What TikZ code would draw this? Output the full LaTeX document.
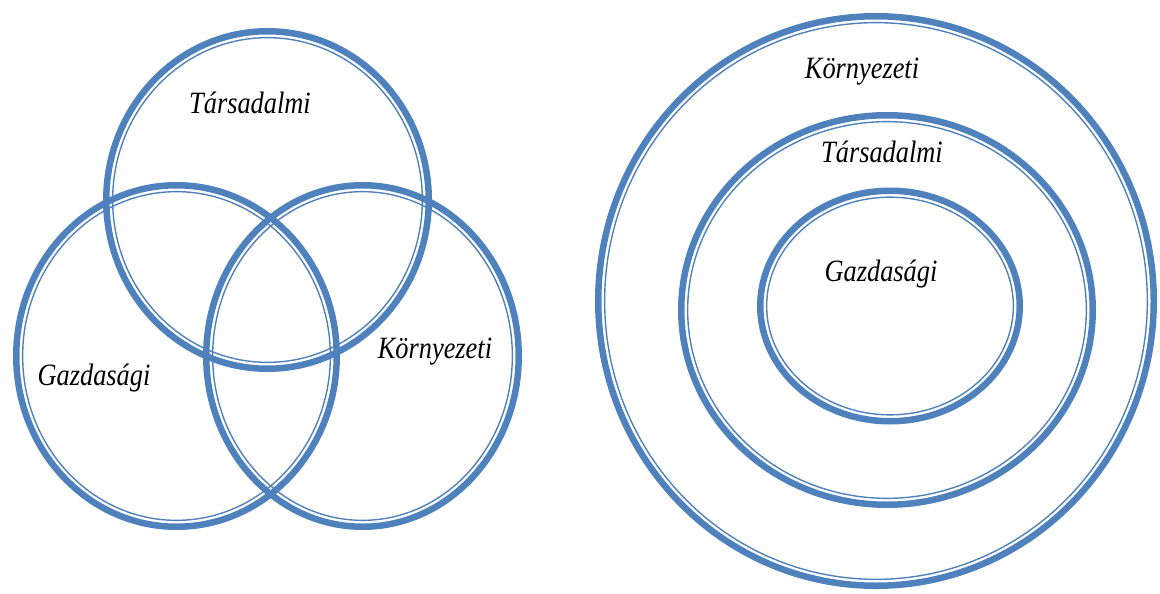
\documentclass[tikz,border=0pt]{standalone}
\usepackage{fontspec}
\newfontfamily\labelfont[FakeStretch=0.85]{Liberation Serif}
\usetikzlibrary{positioning}
\definecolor{ringblue}{RGB}{79,129,189}

\begin{document}
\begin{tikzpicture}[x=1pt, y=-1pt,
    ringout/.style={draw=ringblue, line width=6.5pt},
    ringin/.style={draw=ringblue, line width=1.4pt},
    lbl/.style={font=\labelfont\itshape\fontsize{31}{35}\selectfont, inner sep=0pt}
]
\useasboundingbox (0,0) rectangle (1160,594);

% Left: three overlapping rings
\coordinate (ctop) at (267.5,200);
\coordinate (cleft) at (176.5,356);
\coordinate (cright) at (362.5,356);
\foreach \c/\rx/\ry in {cleft/160.25/170.75, cright/156.25/170.75, ctop/161.25/168.75} {
    \draw[ringout] (\c) ellipse [x radius=\rx, y radius=\ry];
    \draw[ringin] (\c) ellipse [x radius=\rx-6.4, y radius=\ry-6.4];
}
\node[lbl] (vsoc) at (250,103) {Társadalmi};
\node[lbl] (veco) at (94,378) {Gazdasági};
\node[lbl] (venv) at (435,352) {Környezeti};

% Right: nested rings
\coordinate (cout) at (876,301);
\coordinate (cmid) at (887,310);
\coordinate (cin) at (890,306);
\foreach \c/\rx/\ry in {cout/277.75/284.75, cmid/205.75/194.75, cin/129.75/115.25} {
    \draw[ringout] (\c) ellipse [x radius=\rx, y radius=\ry];
    \draw[ringin] (\c) ellipse [x radius=\rx-6.4, y radius=\ry-6.4];
}
\node[lbl] (nenv) at (862,72) {Környezeti};
\node[lbl] (nsoc) at (882,152) {Társadalmi};
\node[lbl] (neco) at (881,274) {Gazdasági};

\end{tikzpicture}
\end{document}
